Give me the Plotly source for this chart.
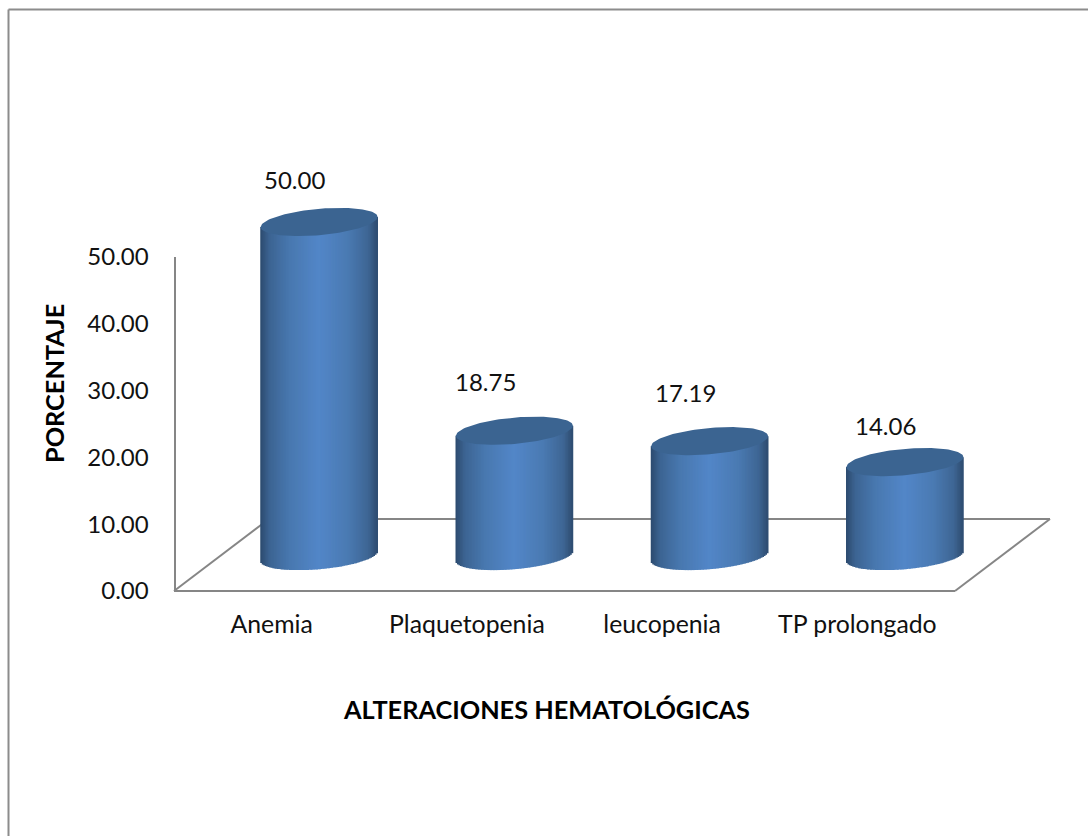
import math
import plotly.graph_objects as go

# Chart data
categories = ["Anemia", "Plaquetopenia", "leucopenia", "TP prolongado"]
percentages = [50.00, 18.75, 17.19, 14.06]
y_ticks = [0, 10, 20, 30, 40, 50]

# Page size and pixel anchors of the floor
W, H = 1088, 836
FRONT_L, FRONT_R, FRONT_Y, TOP_Y = 174, 955, 591, 257
DEPTH_X, DEPTH_Y = 95, 72
BAR_DX, BAR_DY = 47.5, 35
PX_PER_UNIT = (FRONT_Y - TOP_Y) / 50
PX_PER_CAT = (FRONT_R - FRONT_L) / 4

# Cylinder shape, in axis units
RX = 58.5 / PX_PER_CAT
RY = 13.2 / PX_PER_UNIT
SHEAR = 5.0 / PX_PER_UNIT
STRIPS = 78

GRID = "#868686"
TEXT = "#111111"
FONT = "Lato"
SIDE_STOPS = [(0.0, (44, 74, 110)), (0.08, (60, 100, 146)), (0.25, (72, 120, 175)),
              (0.5, (82, 134, 200)), (0.75, (74, 122, 178)), (0.92, (62, 102, 148)),
              (1.0, (46, 76, 112))]
TOP_FACE = "#3b6491"

label_offsets = [(-25, 43), (-29, 49), (-24.5, 49), (-19, 37)]


def px(x):
    return x / W


def py(y):
    return 1 - y / H


def side_colour(t):
    for (t0, c0), (t1, c1) in zip(SIDE_STOPS, SIDE_STOPS[1:]):
        if t <= t1:
            f = (t - t0) / (t1 - t0)
            return "rgb(%d,%d,%d)" % tuple(round(a + (b - a) * f) for a, b in zip(c0, c1))
    return "rgb(46,76,112)"


fig = go.Figure()

# Invisible trace that keeps the front axes with their ticks on the page
fig.add_trace(go.Scatter(
    x=list(range(len(categories))), y=percentages, mode="markers",
    marker=dict(opacity=0), xaxis="x", yaxis="y", hoverinfo="skip", showlegend=False,
))

# Cylinder walls: one bar trace per colour strip, shared by the four categories
step = 2 / STRIPS
for i in range(STRIPS):
    u = -1 + (i + 0.5) * step
    low = SHEAR * u - RY * math.sqrt(max(0, 1 - u * u))
    fig.add_trace(go.Bar(
        x=[c + u * RX for c in range(len(percentages))],
        y=[v + SHEAR * u - low for v in percentages],
        base=[low] * len(percentages),
        width=step * RX * 1.5,
        marker=dict(color=side_colour((u + 1) / 2), line=dict(width=0)),
        xaxis="x2", yaxis="y2", hoverinfo="skip", showlegend=False,
    ))

# Cylinder top faces
top_x, top_y = [], []
for c, v in enumerate(percentages):
    for k in range(121):
        t = 2 * math.pi * k / 120
        top_x.append(c + RX * math.cos(t))
        top_y.append(v + SHEAR * math.cos(t) + RY * math.sin(t))
    top_x.append(None)
    top_y.append(None)
fig.add_trace(go.Scatter(
    x=top_x, y=top_y, mode="lines", fill="toself", fillcolor=TOP_FACE,
    line=dict(width=0, color=TOP_FACE), xaxis="x2", yaxis="y2",
    hoverinfo="skip", showlegend=False,
))

# Floor outline sits behind the cylinders
floor = [
    (FRONT_L, FRONT_Y, FRONT_L + DEPTH_X, FRONT_Y - DEPTH_Y),
    (FRONT_L + DEPTH_X, FRONT_Y - DEPTH_Y, FRONT_R + DEPTH_X, FRONT_Y - DEPTH_Y),
    (FRONT_R + DEPTH_X, FRONT_Y - DEPTH_Y, FRONT_R, FRONT_Y),
    (FRONT_R, FRONT_Y, FRONT_L, FRONT_Y),
]
shapes = [dict(type="line", xref="paper", yref="paper", layer="below",
               x0=px(a), y0=py(b), x1=px(c), y1=py(d),
               line=dict(color=GRID, width=2)) for a, b, c, d in floor]

# Outer chart frame: only the left and top edges fall inside the page
shapes += [
    dict(type="line", xref="paper", yref="paper", layer="below",
         x0=px(8.5), y0=py(9.5), x1=px(8.5), y1=py(836), line=dict(color="#8c8c8c", width=2)),
    dict(type="line", xref="paper", yref="paper", layer="below",
         x0=px(8.5), y0=py(9.5), x1=px(1088), y1=py(9.5), line=dict(color="#8c8c8c", width=2)),
]

annotations = [
    dict(xref="x2", yref="y2", x=c, y=v, text="%.2f" % v, showarrow=False,
         xshift=dx, yshift=dy, xanchor="center", yanchor="middle",
         font=dict(family=FONT, size=24, color=TEXT))
    for c, (v, (dx, dy)) in enumerate(zip(percentages, label_offsets))
]
annotations += [
    dict(xref="paper", yref="paper", x=px(546.5), y=py(709), showarrow=False,
         xanchor="center", yanchor="middle",
         text="<b>ALTERACIONES HEMATOLÓGICAS</b>",
         font=dict(family=FONT, size=25.3, color="#000000")),
    dict(xref="paper", yref="paper", x=px(54), y=py(384), showarrow=False, textangle=-90,
         xanchor="center", yanchor="middle",
         text="<b>PORCENTAJE</b>",
         font=dict(family=FONT, size=25.3, color="#000000")),
]

# The cylinders stand on a plane shifted into the depth of the floor
y2_bottom, y2_top = 610, 180
bar_zero = FRONT_Y - BAR_DY

fig.update_layout(
    width=W, height=H, margin=dict(l=0, r=0, t=0, b=0),
    paper_bgcolor="white", plot_bgcolor="rgba(0,0,0,0)",
    barmode="overlay", showlegend=False, shapes=shapes, annotations=annotations,
    font=dict(family=FONT, size=24, color=TEXT),
    xaxis=dict(domain=[px(FRONT_L), px(FRONT_R)], range=[-0.5, 3.5], tickmode="array",
               tickvals=list(range(len(categories))), ticktext=categories,
               showgrid=False, zeroline=False, showline=False, ticks="", anchor="y",
               ticklabelstandoff=16, tickangle=0, tickfont=dict(size=24.8), automargin=False),
    yaxis=dict(domain=[py(FRONT_Y), py(TOP_Y)], range=[0, 50], tickmode="array",
               tickvals=y_ticks, ticktext=["%.2f" % t for t in y_ticks],
               showgrid=False, zeroline=False, showline=True, linecolor=GRID, linewidth=2,
               ticks="", anchor="free", position=px(174.5), ticklabelstandoff=20,
               automargin=False),
    xaxis2=dict(domain=[px(FRONT_L + BAR_DX), px(FRONT_R + BAR_DX)], range=[-0.5, 3.5],
                visible=False, anchor="y2", automargin=False),
    yaxis2=dict(domain=[py(y2_bottom), py(y2_top)],
                range=[(bar_zero - y2_bottom) / PX_PER_UNIT, (bar_zero - y2_top) / PX_PER_UNIT],
                visible=False, anchor="x2", automargin=False),
)

fig.write_html("out.html")
